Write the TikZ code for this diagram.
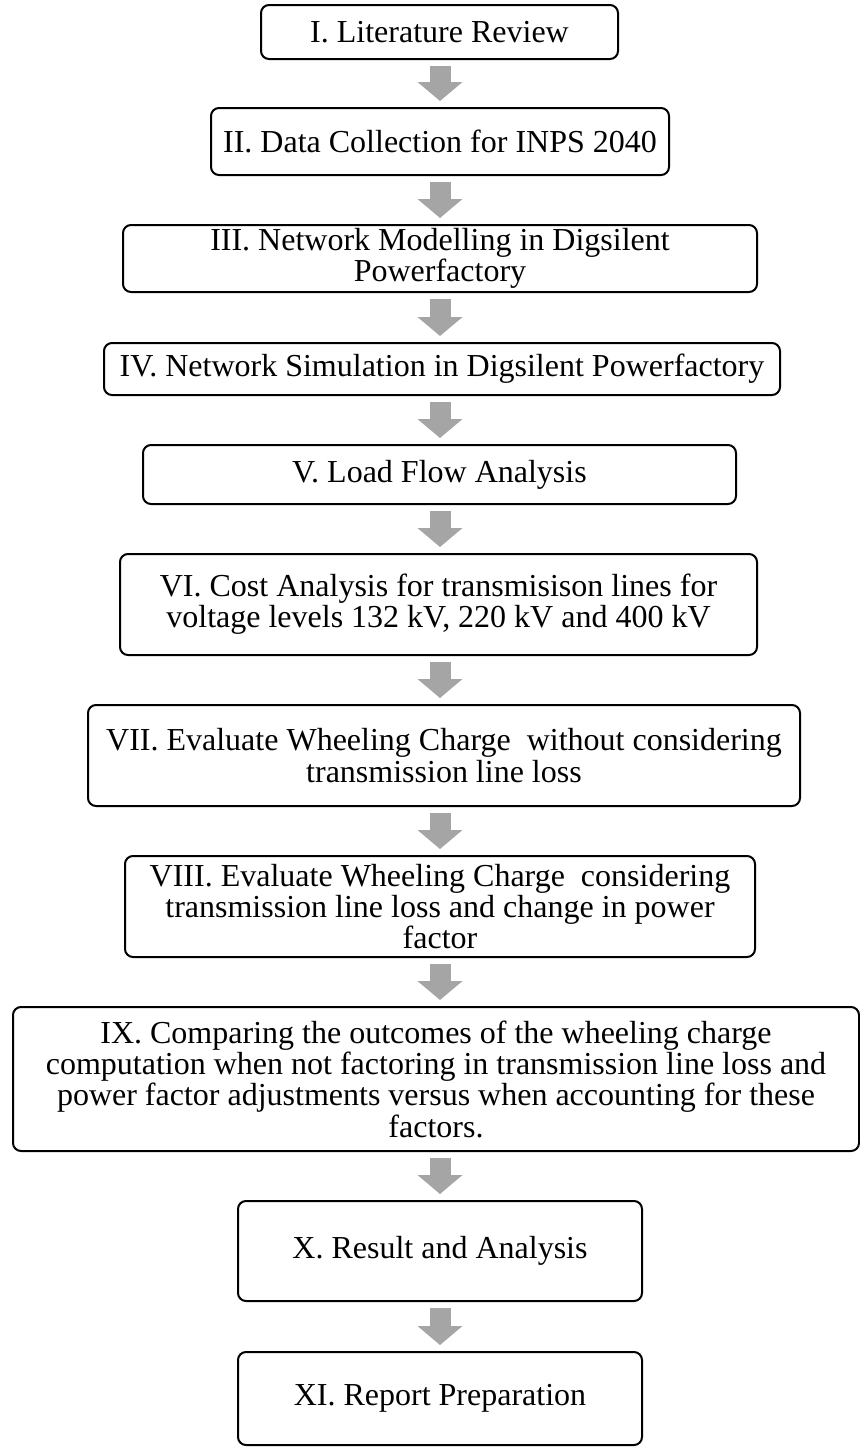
\documentclass[tikz,border=0pt]{standalone}
\usepackage{fontspec}
\setmainfont{Liberation Serif}
\usetikzlibrary{arrows.meta,calc}
\definecolor{arrowgray}{HTML}{A5A5A5}
\begin{document}
\begin{tikzpicture}[x=0.75pt,y=-0.75pt,
  box/.style={draw=black, line width=1.5pt, rounded corners=6pt, inner sep=0pt,
    align=center, font=\fontsize{24}{23.5}\selectfont},
  flow/.style={draw=arrowgray, line width=15.75pt, line cap=butt,
    -{Triangle[width=33pt,length=14.25pt]}}]
\useasboundingbox (0,0) rectangle (860,1447);
\clip (0,0) rectangle (860,1447);
\fill[white] (0,0) rectangle (860,1447);
\coordinate (axis) at (440,0);

\node[box, minimum width=267.75pt, minimum height=40.5pt] (n1) at (439.5,32) {I. Literature Review};
\node[box, minimum width=343.5pt, minimum height=50.25pt] (n2) at (440,141.5) {II. Data Collection for INPS 2040};
\node[box, minimum width=475.5pt, minimum height=50.25pt] (n3) at (440,258.5) {III. Network Modelling in Digsilent\\Powerfactory};
\node[box, minimum width=507pt, minimum height=39pt] (n4) at (442,369) {IV. Network Simulation in Digsilent Powerfactory};
\node[box, minimum width=444.75pt, minimum height=44.25pt] (n5) at (439.5,474.5) {V. Load Flow Analysis};
\node[box, minimum width=477.75pt, minimum height=75.75pt] (n6) at (438.5,604.5) {VI. Cost Analysis for transmisison lines for\\voltage levels 132 kV, 220 kV and 400 kV};
\node[box, minimum width=534pt, minimum height=75.75pt] (n7) at (444,755.5) {VII. Evaluate Wheeling Charge\ \ without considering\\transmission line loss};
\node[box, minimum width=472.5pt, minimum height=75.75pt] (n8) at (440,906.5) {VIII. Evaluate Wheeling Charge\ \ considering\\transmission line loss and change in power\\factor};
\node[box, minimum width=634.5pt, minimum height=108pt] (n9) at (436,1079) {IX. Comparing the outcomes of the wheeling charge\\computation when not factoring in transmission line loss and\\power factor adjustments versus when accounting for these\\factors.};
\node[box, minimum width=303pt, minimum height=75pt] (n10) at (440,1251) {X. Result and Analysis};
\node[box, minimum width=303pt, minimum height=69.75pt] (n11) at (440,1398.5) {XI. Report Preparation};

\foreach \a/\b in {n1/n2,n2/n3,n3/n4,n4/n5,n5/n6,n6/n7,n7/n8,n8/n9,n9/n10,n10/n11}{
  \draw[flow] ($(axis |- \a.south)+(0,6)$) -- ($(axis |- \b.north)+(0,-6)$);
}
\end{tikzpicture}
\end{document}
